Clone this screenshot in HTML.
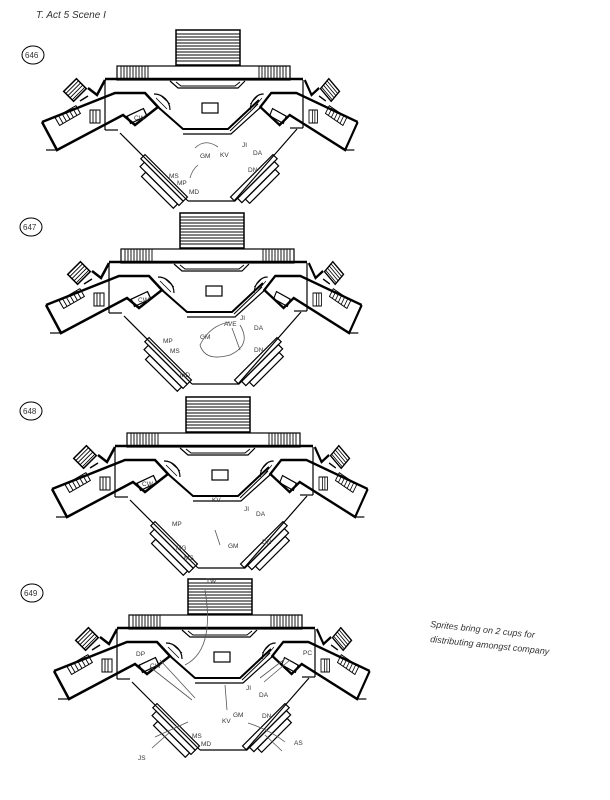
<!DOCTYPE html>
<html><head><meta charset="utf-8"><style>
html,body{margin:0;padding:0;background:#fff;}
svg{display:block;}
text{font-family:"Liberation Sans",sans-serif;fill:#333;}
</style></head><body>
<svg width="610" height="800" viewBox="0 0 610 800" xmlns="http://www.w3.org/2000/svg">
<defs>
<g id="wing" fill="none" stroke="#000">
  <polyline points="42,122 115,93 145,93 158,107 135,125 123,115 57,150 42,122" stroke-width="2.5"/>
  <line x1="46" y1="150" x2="58" y2="150" stroke-width="1.2"/>
  <rect x="128" y="112" width="18" height="8" stroke-width="1.3" transform="rotate(-25 137 116)"/>
  <g transform="rotate(-30 68 116)"><rect x="56" y="111" width="24" height="9" stroke-width="1"/>
    <path d="M60,111V120M64,111V120M68,111V120M72,111V120M76,111V120" stroke-width="0.9"/></g>
  <g transform="rotate(-45 75 90)"><rect x="66" y="83" width="18" height="14" stroke-width="1.5"/>
    <path d="M66,86H84M66,89H84M66,92H84M66,95H84" stroke-width="0.9"/></g>
  <polyline points="105,80 97,95 88,88" stroke-width="2.5"/>
  <line x1="80" y1="101" x2="88" y2="96" stroke-width="1.5"/>
  <rect x="90" y="110" width="10" height="13" stroke-width="1"/>
  <path d="M93,110V123M96,110V123" stroke-width="0.9"/>
  <path d="M154,94 A16,16 0 0 1 170,110" stroke-width="1.2"/>
  <path d="M156,98 L167,109 M160,95 L170,104" stroke-width="0.8"/>
</g>
<g id="plan" fill="none" stroke="#000">
  <rect x="176" y="30" width="64" height="35" stroke-width="1.5"/>
  <path d="M176,34H240M176,37H240M176,40H240M176,43H240M176,46H240M176,49H240M176,52H240M176,55H240M176,58H240M176,61H240" stroke-width="1"/>
  <rect x="117" y="66" width="173" height="14" stroke-width="1.2"/>
  <path d="M121,66V79M124,66V79M127,66V79M130,66V79M133,66V79M136,66V79M139,66V79M142,66V79M145,66V79M148,66V79" stroke-width="0.9"/>
  <path d="M262,66V79M265,66V79M268,66V79M271,66V79M274,66V79M277,66V79M280,66V79M283,66V79M286,66V79M259,66V79" stroke-width="0.9"/>
  <line x1="105" y1="79" x2="303" y2="79" stroke-width="2.5"/>
  <line x1="105" y1="80" x2="105" y2="130" stroke-width="1.2"/>
  <line x1="303" y1="80" x2="303" y2="128" stroke-width="1.2"/>
  <line x1="105" y1="130" x2="118" y2="130" stroke-width="1.2"/>
  <line x1="290" y1="128" x2="303" y2="128" stroke-width="1.2"/>
  <polyline points="170,81 178,88 238,88 245,81" stroke-width="1.2"/>
  <polyline points="176,82 181,86 235,86 240,82" stroke-width="1"/>
  <rect x="202" y="103" width="16" height="10" stroke-width="1.2"/>
  <polyline points="158,107 183,129 228,129 259,100" stroke-width="2"/>
  <polyline points="183,134 231,134 262,106" stroke-width="1.2"/>
  <polyline points="230,131 258,104" stroke-width="1"/>
  <line x1="120" y1="133" x2="188" y2="201" stroke-width="1.2"/>
  <line x1="188" y1="201" x2="234" y2="201" stroke-width="1.2"/>
  <line x1="234" y1="201" x2="297" y2="129" stroke-width="1.2"/>
  <g transform="rotate(45 162 180)" stroke-width="1.2">
    <rect x="132" y="174" width="60" height="6"/><rect x="137" y="180" width="55" height="6"/><rect x="145" y="186" width="45" height="6"/>
  </g>
  <g transform="rotate(-45 256 180)" stroke-width="1.2">
    <rect x="226" y="174" width="60" height="6"/><rect x="230" y="180" width="52" height="6"/><rect x="235" y="186" width="42" height="6"/>
  </g>
  <use href="#wing"/>
  <use href="#wing" transform="translate(393,0) scale(-0.84,1)"/>
</g>
</defs>

<text x="36" y="18" font-size="10" font-style="italic">T. Act 5 Scene I</text>

<!-- 646 -->
<use href="#plan"/>
<ellipse cx="33" cy="55" rx="11" ry="9" fill="none" stroke="#000" stroke-width="1"/>
<text x="25" y="58" font-size="8">646</text>
<g font-size="6.5">
<text x="134" y="120">CW</text><text x="200" y="158">GM</text><text x="220" y="157">KV</text>
<text x="242" y="147">JI</text><text x="253" y="155">DA</text><text x="169" y="178">MS</text>
<text x="177" y="185">MP</text><text x="189" y="194">MD</text><text x="248" y="172">DN</text>
</g>
<path d="M218,147 Q205,138 195,148" fill="none" stroke="#555" stroke-width="0.8"/>
<path d="M190,178 Q192,170 198,165" fill="none" stroke="#555" stroke-width="0.8"/>

<!-- 647 -->
<use href="#plan" transform="translate(4,183)"/>
<ellipse cx="31" cy="227" rx="11" ry="9" fill="none" stroke="#000" stroke-width="1"/>
<text x="23" y="230" font-size="8">647</text>
<g font-size="6.5">
<text x="138" y="302">CW</text><text x="163" y="343">MP</text><text x="170" y="353">MS</text>
<text x="180" y="377">MD</text><text x="200" y="339">GM</text><text x="224" y="326">AVE</text>
<text x="240" y="320">JI</text><text x="254" y="330">DA</text><text x="254" y="352">DN</text>
</g>
<path d="M230,322 Q210,325 200,345 Q205,362 230,355 Q252,345 240,325" fill="none" stroke="#555" stroke-width="0.8"/>
<line x1="232" y1="328" x2="240" y2="350" stroke="#555" stroke-width="0.8"/>

<!-- 648 -->
<use href="#plan" transform="translate(10,367)"/>
<ellipse cx="31" cy="411" rx="11" ry="9" fill="none" stroke="#000" stroke-width="1"/>
<text x="23" y="414" font-size="8">648</text>
<g font-size="6.5">
<text x="142" y="486">CW</text><text x="172" y="526">MP</text><text x="176" y="550">MG</text>
<text x="184" y="560">MS</text><text x="228" y="548">GM</text><text x="212" y="502">KV</text>
<text x="244" y="511">JI</text><text x="256" y="516">DA</text><text x="262" y="544">DN</text>
</g>
<line x1="215" y1="530" x2="220" y2="545" stroke="#555" stroke-width="0.8"/>

<!-- 649 -->
<use href="#plan" transform="translate(12,549)"/>
<ellipse cx="32" cy="593" rx="11" ry="9" fill="none" stroke="#000" stroke-width="1"/>
<text x="24" y="596" font-size="8">649</text>
<g font-size="6.5">
<text x="206" y="583">TW</text><text x="136" y="656">DP</text><text x="150" y="668">CW</text>
<text x="246" y="690">JI</text><text x="259" y="697">DA</text><text x="303" y="655">PC</text>
<text x="222" y="723">KV</text><text x="233" y="717">GM</text><text x="262" y="718">DN</text>
<text x="192" y="738">MS</text><text x="201" y="746">MD</text><text x="138" y="760">JS</text>
<text x="294" y="745">AS</text>
</g>
<g fill="none" stroke="#555" stroke-width="0.8">
<path d="M185,665 Q215,650 205,590"/>
<line x1="150" y1="667" x2="192" y2="700"/><line x1="160" y1="660" x2="195" y2="698"/>
<line x1="225" y1="685" x2="227" y2="710"/>
<line x1="290" y1="660" x2="264" y2="682"/><line x1="286" y1="658" x2="260" y2="678"/>
<line x1="155" y1="737" x2="188" y2="722"/><line x1="152" y1="748" x2="170" y2="732"/>
<path d="M248,723 Q270,730 285,742"/><line x1="265" y1="735" x2="282" y2="751"/>
</g>

<text x="430" y="627" font-size="9" font-style="italic" transform="rotate(6 430 627)">Sprites bring on 2 cups for</text>
<text x="430" y="642" font-size="9" font-style="italic" transform="rotate(6 430 642)">distributing amongst company</text>
</svg>
</body></html>
